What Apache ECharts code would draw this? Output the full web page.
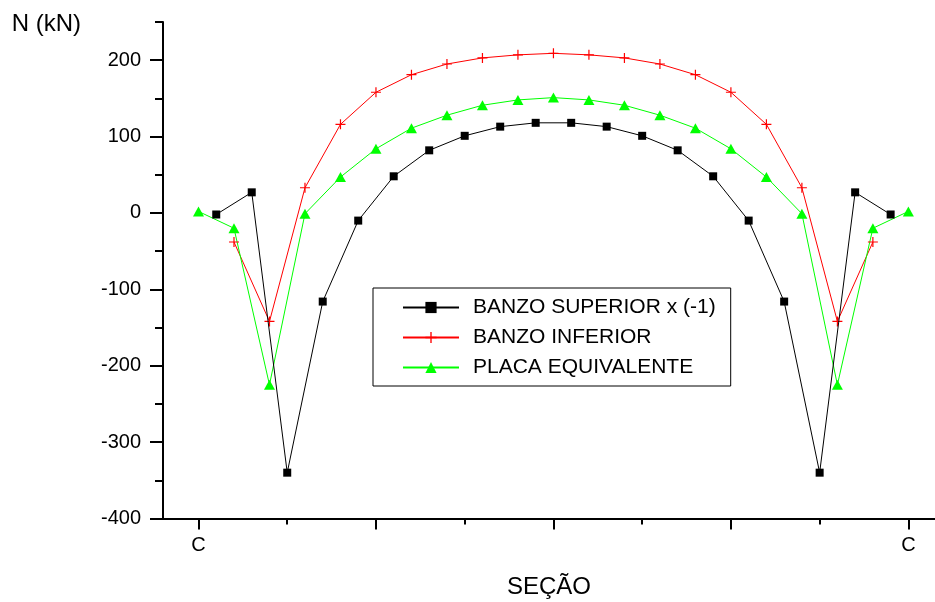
<!DOCTYPE html>
<html>
<head>
<meta charset="utf-8">
<script src="https://cdn.jsdelivr.net/npm/echarts@6/dist/echarts.min.js"></script>
<style>
  html, body { margin: 0; padding: 0; background: #fff; }
  #chart { width: 935px; height: 602px; }
</style>
</head>
<body>
<div id="chart"></div>
<script>
// Section positions along the span (C ... C)
const xSuperior = [1, 3, 5, 7, 9, 11, 13, 15, 17, 19, 21, 23, 25, 27, 29, 31, 33, 35, 37, 39];
const xInferior = [2, 4, 6, 8, 10, 12, 14, 16, 18, 20, 22, 24, 26, 28, 30, 32, 34, 36, 38];
const xPlaca = [0, 2, 4, 6, 8, 10, 12, 14, 16, 18, 20, 22, 24, 26, 28, 30, 32, 34, 36, 38, 40];

// Axial force N (kN)
const nSuperior = [-2, 27, -340, -116, -10, 48, 82, 101, 113, 118, 118, 113, 101, 82, 48, -10, -116, -340, 27, -2];
const nInferior = [-38, -142, 33, 116, 158, 181, 195, 203, 207, 209, 207, 203, 195, 181, 158, 116, 33, -142, -38];
const nPlaca = [2, -20, -225, -1, 47, 84, 111, 128, 141, 148, 151, 148, 141, 128, 111, 84, 47, -1, -225, -20, 2];

const seriesNames = ['BANZO SUPERIOR x (-1)', 'BANZO INFERIOR', 'PLACA EQUIVALENTE'];

// Axis ticks
const xMajorTicks = [0, 10, 20, 30, 40];
const xMinorTicks = [5, 15, 25, 35];
const xLabelValues = [0, 40];
const xLabelText = 'C';
const yMajorTicks = [-400, -300, -200, -100, 0, 100, 200];
const yMinorTicks = [-350, -250, -150, -50, 50, 150, 250];

const FONT = 'Liberation Sans, Arial, sans-serif';
const pairs = (xs, ys) => xs.map((x, i) => [x, ys[i]]);

const plusPath = 'path://M4.4,0h1.2v4.4h4.4v1.2h-4.4v4.4h-1.2v-4.4h-4.4v-1.2h4.4z';

const axisLineStyle = { color: '#000', width: 2 };

const chart = echarts.init(document.getElementById('chart'), null, { renderer: 'canvas' });
chart.setOption({
  animation: false,
  backgroundColor: '#ffffff',
  grid: { left: 163, right: 0, top: 22, bottom: 83.5, containLabel: false, outerBoundsMode: 'none' },
  xAxis: [
    {
      type: 'value', min: -2, max: 41.5, position: 'bottom',
      name: 'SEÇÃO', nameLocation: 'middle', nameGap: 57,
      nameTextStyle: { fontFamily: FONT, fontSize: 24, color: '#000' },
      axisLine: { show: true, onZero: false, lineStyle: axisLineStyle },
      axisTick: { show: true, length: 11, lineStyle: axisLineStyle, customValues: xMajorTicks },
      axisLabel: {
        show: true, margin: 17, customValues: xLabelValues,
        formatter: () => xLabelText,
        fontFamily: FONT, fontSize: 20, color: '#000'
      },
      splitLine: { show: false }
    },
    {
      type: 'value', min: -2, max: 41.5, position: 'bottom', offset: 0,
      axisLine: { show: false, onZero: false },
      axisTick: { show: true, length: 6, lineStyle: axisLineStyle, customValues: xMinorTicks },
      axisLabel: { show: false },
      splitLine: { show: false }
    }
  ],
  yAxis: [
    {
      type: 'value', min: -400, max: 250, position: 'left',
      name: 'N (kN)', nameLocation: 'end', nameGap: -14,
      nameTextStyle: {
        fontFamily: FONT, fontSize: 24, color: '#000',
        align: 'right', verticalAlign: 'bottom', padding: [0, 82, 0, 0]
      },
      axisLine: { show: true, onZero: false, lineStyle: axisLineStyle },
      axisTick: { show: true, length: 13, lineStyle: axisLineStyle, customValues: yMajorTicks },
      axisLabel: {
        show: true, margin: 22, customValues: yMajorTicks,
        fontFamily: FONT, fontSize: 20, color: '#000'
      },
      splitLine: { show: false }
    },
    {
      type: 'value', min: -400, max: 250, position: 'left', offset: 0,
      axisLine: { show: false, onZero: false },
      axisTick: { show: true, length: 8, lineStyle: axisLineStyle, customValues: yMinorTicks },
      axisLabel: { show: false },
      splitLine: { show: false }
    }
  ],
  legend: {
    orient: 'vertical',
    left: 373, top: 288,
    padding: [9, 15, 8, 29],
    itemWidth: 56, itemHeight: 14, itemGap: 9,
    borderColor: '#000', borderWidth: 1,
    backgroundColor: '#fff',
    textStyle: { fontFamily: FONT, fontSize: 21, color: '#000', padding: [0, 0, 0, 9] },
    data: seriesNames
  },
  series: [
    {
      name: seriesNames[0], type: 'line', xAxisIndex: 0, yAxisIndex: 0,
      data: pairs(xSuperior, nSuperior),
      symbol: 'rect', symbolSize: 8,
      itemStyle: { color: '#000' },
      lineStyle: { color: '#000', width: 1 },
      z: 3
    },
    {
      name: seriesNames[1], type: 'line', xAxisIndex: 0, yAxisIndex: 0,
      data: pairs(xInferior, nInferior),
      symbol: plusPath, symbolSize: 10,
      itemStyle: { color: '#ff0000' },
      lineStyle: { color: '#ff0000', width: 1 },
      z: 2
    },
    {
      name: seriesNames[2], type: 'line', xAxisIndex: 0, yAxisIndex: 0,
      data: pairs(xPlaca, nPlaca),
      symbol: 'triangle', symbolSize: [11, 10],
      itemStyle: { color: '#00ff00' },
      lineStyle: { color: '#00ff00', width: 1 },
      z: 2
    }
  ]
});
</script>
</body>
</html>
